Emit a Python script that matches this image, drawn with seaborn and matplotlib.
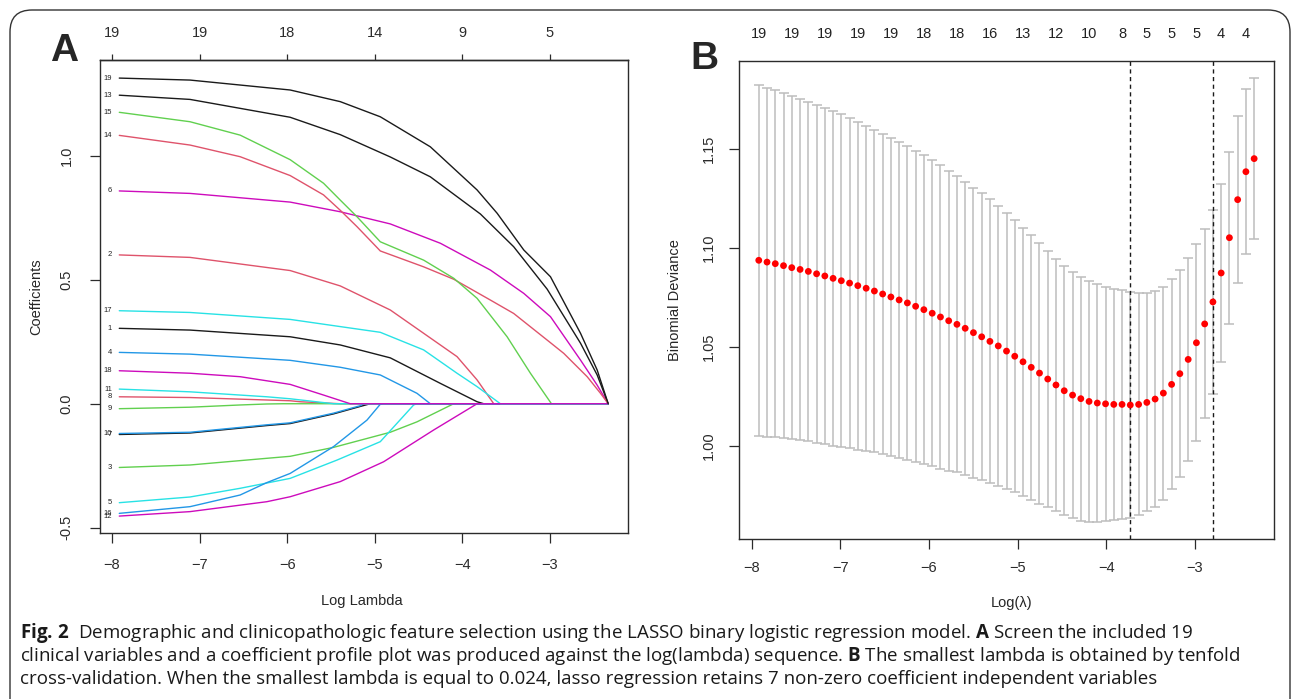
import numpy as np
import pandas as pd
import seaborn as sns
import matplotlib.pyplot as plt
from matplotlib.patches import FancyBboxPatch

# ---------------- panel A: coefficient paths (log lambda, coefficient)
path_1 = [(-7.917, 0.304), (-7.109, 0.297), (-5.966, 0.270), (-5.394, 0.237), (-4.823, 0.185), (-4.251, 0.082), (-3.832, 0.008), (-3.756, 0.0), (-2.335, 0.0)]
path_2 = [(-7.917, 0.600), (-7.109, 0.590), (-5.966, 0.537), (-5.394, 0.475), (-4.823, 0.378), (-4.442, 0.284), (-4.061, 0.190), (-3.832, 0.096), (-3.642, 0.0), (-2.335, 0.0)]
path_3 = [(-7.917, -0.257), (-7.109, -0.247), (-6.232, -0.220), (-5.966, -0.212), (-5.471, -0.176), (-4.823, -0.115), (-4.518, -0.073), (-4.099, 0.0), (-2.335, 0.0)]
path_4 = [(-7.917, 0.207), (-7.109, 0.200), (-5.966, 0.175), (-5.394, 0.147), (-4.937, 0.116), (-4.518, 0.042), (-4.366, 0.0), (-2.335, 0.0)]
path_5 = [(-7.917, -0.399), (-7.109, -0.376), (-6.537, -0.341), (-5.966, -0.301), (-5.430, -0.227), (-4.937, -0.153), (-4.556, -0.005), (-4.518, 0.0), (-2.335, 0.0)]
path_6 = [(-7.917, 0.858), (-7.109, 0.848), (-5.966, 0.813), (-5.394, 0.774), (-4.823, 0.725), (-4.251, 0.647), (-3.680, 0.539), (-3.299, 0.445), (-2.994, 0.351), (-2.651, 0.176), (-2.461, 0.075), (-2.335, 0.0)]
path_7 = [(-7.917, -0.124), (-7.109, -0.118), (-6.232, -0.088), (-5.966, -0.080), (-5.471, -0.041), (-5.166, -0.011), (-5.051, 0.0), (-2.335, 0.0)]
path_8 = [(-7.917, 0.028), (-7.109, 0.025), (-5.966, 0.012), (-5.851, 0.008), (-5.394, 0.0), (-2.335, 0.0)]
path_9 = [(-7.917, -0.020), (-7.109, -0.014), (-6.537, -0.005), (-6.232, -0.001), (-6.042, 0.0), (-2.335, 0.0)]
path_10 = [(-7.917, -0.120), (-7.109, -0.115), (-6.232, -0.085), (-5.966, -0.077), (-5.471, -0.038), (-5.166, -0.008), (-5.128, 0.0), (-2.335, 0.0)]
path_11 = [(-7.917, 0.059), (-7.109, 0.048), (-6.232, 0.028), (-5.966, 0.020), (-5.471, 0.0), (-2.335, 0.0)]
path_12 = [(-7.917, -0.453), (-7.109, -0.435), (-6.232, -0.395), (-5.966, -0.375), (-5.394, -0.314), (-4.899, -0.234), (-4.328, -0.106), (-3.832, 0.0), (-2.335, 0.0)]
path_13 = [(-7.917, 1.244), (-7.109, 1.227), (-5.966, 1.155), (-5.394, 1.085), (-4.823, 0.995), (-4.366, 0.915), (-3.794, 0.765), (-3.414, 0.633), (-3.032, 0.462), (-2.651, 0.244), (-2.461, 0.116), (-2.335, 0.0)]
path_14 = [(-7.917, 1.082), (-7.109, 1.043), (-6.537, 0.996), (-5.966, 0.920), (-5.585, 0.842), (-5.394, 0.780), (-5.203, 0.714), (-4.937, 0.616), (-4.442, 0.552), (-4.099, 0.502), (-3.680, 0.418), (-3.414, 0.364), (-2.994, 0.246), (-2.842, 0.203), (-2.575, 0.109), (-2.423, 0.042), (-2.335, 0.0)]
path_15 = [(-7.917, 1.175), (-7.109, 1.137), (-6.537, 1.083), (-5.966, 0.984), (-5.585, 0.889), (-5.394, 0.821), (-5.203, 0.754), (-4.937, 0.653), (-4.442, 0.579), (-4.099, 0.506), (-3.832, 0.425), (-3.489, 0.270), (-3.223, 0.123), (-2.983, 0.0), (-2.335, 0.0)]
path_16 = [(-7.917, -0.442), (-7.109, -0.415), (-6.537, -0.368), (-6.232, -0.318), (-5.966, -0.281), (-5.471, -0.173), (-5.089, -0.066), (-4.937, -0.002), (-4.900, 0.0), (-2.335, 0.0)]
path_17 = [(-7.917, 0.375), (-7.109, 0.368), (-5.966, 0.340), (-5.394, 0.311), (-4.937, 0.288), (-4.442, 0.217), (-4.061, 0.123), (-3.832, 0.069), (-3.566, 0.0), (-2.335, 0.0)]
path_18 = [(-7.917, 0.133), (-7.109, 0.123), (-6.537, 0.109), (-5.966, 0.078), (-5.585, 0.035), (-5.280, 0.0), (-2.335, 0.0)]
path_19 = [(-7.917, 1.313), (-7.109, 1.305), (-5.966, 1.265), (-5.394, 1.218), (-4.937, 1.157), (-4.366, 1.036), (-3.832, 0.862), (-3.603, 0.768), (-3.299, 0.620), (-2.994, 0.512), (-2.651, 0.284), (-2.461, 0.136), (-2.335, 0.0)]

paths = [path_1, path_2, path_3, path_4, path_5, path_6, path_7, path_8, path_9, path_10,
         path_11, path_12, path_13, path_14, path_15, path_16, path_17, path_18, path_19]

a_top_ticks = [-8, -7, -6, -5, -4, -3]
a_top_labels = ["19", "19", "18", "14", "9", "5"]

# ---------------- panel B: cross-validation curve
log_lambda = [-7.920, -7.827, -7.734, -7.641, -7.548, -7.454, -7.361, -7.268, -7.175, -7.082,
              -6.989, -6.896, -6.803, -6.709, -6.616, -6.523, -6.430, -6.337, -6.244, -6.151,
              -6.058, -5.964, -5.871, -5.778, -5.685, -5.592, -5.499, -5.406, -5.313, -5.219,
              -5.126, -5.033, -4.940, -4.847, -4.754, -4.661, -4.568, -4.475, -4.381, -4.288,
              -4.195, -4.102, -4.009, -3.916, -3.823, -3.730, -3.636, -3.543, -3.450, -3.357,
              -3.264, -3.171, -3.077, -2.984, -2.891, -2.798, -2.705, -2.612, -2.519, -2.426,
              -2.333]
cv_mean = [1.0937, 1.0928, 1.0920, 1.0910, 1.0900, 1.0891, 1.0881, 1.0869, 1.0858, 1.0846,
           1.0834, 1.0822, 1.0809, 1.0796, 1.0782, 1.0767, 1.0752, 1.0737, 1.0722, 1.0705,
           1.0688, 1.0670, 1.0651, 1.0632, 1.0614, 1.0594, 1.0572, 1.0551, 1.0528, 1.0505,
           1.0479, 1.0453, 1.0425, 1.0397, 1.0368, 1.0338, 1.0308, 1.0279, 1.0257, 1.0239,
           1.0225, 1.0217, 1.0213, 1.0210, 1.0210, 1.0207, 1.0210, 1.0220, 1.0237, 1.0267,
           1.0311, 1.0365, 1.0437, 1.0521, 1.0616, 1.0727, 1.0873, 1.1051, 1.1243, 1.1384,
           1.1450]
cv_se = [0.0884, 0.0880, 0.0875, 0.0871, 0.0867, 0.0861, 0.0856, 0.0853, 0.0849, 0.0844,
         0.0839, 0.0833, 0.0827, 0.0820, 0.0814, 0.0809, 0.0804, 0.0797, 0.0790, 0.0785,
         0.0779, 0.0771, 0.0765, 0.0757, 0.0747, 0.0738, 0.0731, 0.0724, 0.0717, 0.0706,
         0.0695, 0.0685, 0.0676, 0.0667, 0.0658, 0.0647, 0.0637, 0.0629, 0.0622, 0.0615,
         0.0609, 0.0600, 0.0591, 0.0584, 0.0576, 0.0568, 0.0560, 0.0550, 0.0547, 0.0537,
         0.0530, 0.0521, 0.0510, 0.0497, 0.0477, 0.0464, 0.0447, 0.0434, 0.0420, 0.0416,
         0.0407]
nz_at = [0, 4, 8, 12, 16, 20, 24, 28, 32, 36, 40, 44, 47, 50, 53, 56, 59]
nz_labels = ["19", "19", "19", "19", "19", "18", "18", "16", "13", "12", "10", "8", "5", "5", "5", "4", "4"]
log_lambda_min = -3.730
log_lambda_1se = -2.798

caption = [
    r"$\bf{Fig.\!\;2}$  Demographic and clinicopathologic feature selection using the LASSO binary logistic regression model. $\bf{A}$ Screen the included 19",
    r"clinical variables and a coefficient profile plot was produced against the log(lambda) sequence. $\bf{B}$ The smallest lambda is obtained by tenfold",
    r"cross-validation. When the smallest lambda is equal to 0.024, lasso regression retains 7 non-zero coefficient independent variables",
]

sns.set_style("ticks")
plt.rcParams['font.family'] = ['Liberation Sans', 'DejaVu Sans']
plt.rcParams['mathtext.fontset'] = 'custom'
plt.rcParams['mathtext.rm'] = 'Open Sans'
plt.rcParams['mathtext.bf'] = 'Open Sans:bold'
plt.rcParams['axes.edgecolor'] = '#2b2b2b'
plt.rcParams['axes.linewidth'] = 1.0
plt.rcParams['xtick.color'] = '#2b2b2b'
plt.rcParams['ytick.color'] = '#2b2b2b'

r_cols = ["#1a1a1a", "#DF536B", "#61D04F", "#2297E6", "#28E2E5", "#CD0BBC"]
palette = {i + 1: r_cols[i % 6] for i in range(19)}

rows = []
for i, p in enumerate(paths):
    for lam, c in p:
        rows.append((i + 1, lam, c))
df_paths = pd.DataFrame(rows, columns=['var', 'log_lambda', 'coef'])

fig = plt.figure(figsize=(12.95, 6.99), dpi=100)
axA = fig.add_axes([0.07722, 0.23791, 0.40772, 0.67582])
axB = fig.add_axes([0.57066, 0.22890, 0.41313, 0.68426])

#------------------------------- Panel A -------------------------------
sns.lineplot(data=df_paths, x='log_lambda', y='coef', hue='var', hue_order=list(range(1, 20)),
             palette=palette, estimator=None, sort=False, legend=False, lw=1.0, ax=axA)
for i, p in enumerate(paths):
    axA.text(-8.0, p[0][1], str(i + 1), ha='right', va='center', fontsize=5.5, color='#222222')

axA.set_xlim(-8.137, -2.109)
axA.set_ylim(-0.520, 1.3847)
axA.set_xticks([-8, -7, -6, -5, -4, -3])
axA.set_yticks([-0.5, 0.0, 0.5, 1.0])
axA.set_yticklabels(["-0.5", "0.0", "0.5", "1.0"], rotation=90, va='center')
axA.tick_params(axis='both', direction='out', length=7, width=0.9, labelsize=10.5)
axA.tick_params(axis='x', pad=11)
axA.tick_params(axis='y', pad=12)
axA.set_xlabel("Log Lambda", fontsize=10.5)
axA.set_ylabel("Coefficients", fontsize=10.5)
axA.xaxis.set_label_coords(0.496, -0.130)
axA.yaxis.set_label_coords(-0.108, 0.50)

topA = axA.secondary_xaxis('top')
topA.set_xticks(a_top_ticks)
topA.set_xticklabels(a_top_labels)
topA.tick_params(direction='out', length=4.5, width=0.9, labelsize=10.5, pad=10)

#------------------------------- Panel B -------------------------------
axB.errorbar(log_lambda, cv_mean, yerr=cv_se, fmt='none', ecolor='#bdbdbd',
             elinewidth=1.1, capsize=3.6, capthick=1.1, zorder=1)
sns.scatterplot(x=log_lambda, y=cv_mean, color='#ff0000', s=24, edgecolor='none', zorder=3, ax=axB)
axB.axvline(log_lambda_min, color='#1a1a1a', ls=(0, (3, 2.5)), lw=1.0)
axB.axvline(log_lambda_1se, color='#1a1a1a', ls=(0, (3, 2.5)), lw=1.0)
for i, lab in zip(nz_at, nz_labels):
    axB.text(log_lambda[i], 1.056, lab, transform=axB.get_xaxis_transform(),
             ha='center', va='center', fontsize=10.5, color='#222222')

axB.set_xlim(-8.143, -2.109)
axB.set_ylim(0.9531, 1.1944)
axB.set_xticks([-8, -7, -6, -5, -4, -3])
axB.set_yticks([1.00, 1.05, 1.10, 1.15])
axB.set_yticklabels(["1.00", "1.05", "1.10", "1.15"], rotation=90, va='center')
axB.tick_params(axis='both', direction='out', length=7, width=0.9, labelsize=10.5)
axB.tick_params(axis='x', pad=9)
axB.tick_params(axis='y', pad=10)
axB.set_xlabel("Log(\u03bb)", fontsize=10.5)
axB.set_ylabel("Binomial Deviance", fontsize=10.5)
axB.xaxis.set_label_coords(0.510, -0.119)
axB.yaxis.set_label_coords(-0.1065, 0.50)

for ax in (axA, axB):
    for s in ax.spines.values():
        s.set_visible(True)

# panel letters
fig.text(0.0498, 0.927, "A", fontsize=28, fontweight='bold', ha='center', va='center')
fig.text(0.5436, 0.9156, "B", fontsize=28, fontweight='bold', ha='center', va='center')

# rounded frame
frame = FancyBboxPatch((0.10, -0.4), 12.80, 7.29, boxstyle="round,pad=0,rounding_size=0.22",
                       transform=fig.dpi_scale_trans, fill=False, ec='#333333', lw=1.0)
fig.add_artist(frame)

# caption
for line, ypx in zip(caption, [638, 661, 684]):
    fig.text(20 / 1295, 1 - ypx / 699, line, family='Open Sans', fontsize=13.5,
             ha='left', va='baseline', color='#1a1a1a')

fig.savefig("out.png", dpi=100)
